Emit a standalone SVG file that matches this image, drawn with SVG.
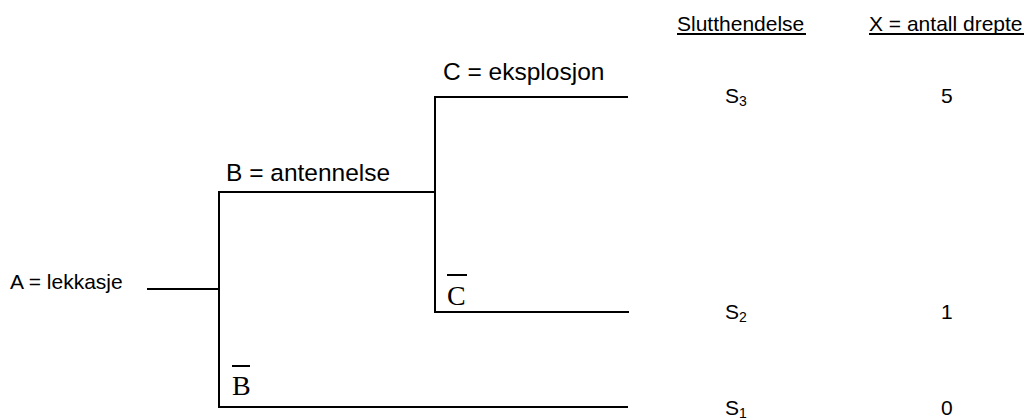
<svg xmlns="http://www.w3.org/2000/svg" width="1027" height="419" viewBox="0 0 1027 419">
<style>
.t{font-family:"Liberation Sans",Arial,sans-serif;font-size:21px;fill:#000}
.lb{font-family:"Liberation Sans",Arial,sans-serif;font-size:24.5px;fill:#000}
.s{font-family:"Liberation Serif","Times New Roman",serif;font-size:28px;fill:#000}
.sub{font-size:14px}
.ln{stroke:#000;stroke-width:2;fill:none}
</style>
<rect width="1027" height="419" fill="#fff"/>
<g id="connectors">
<path class="ln" d="M147,289 H220"/>
<path class="ln" d="M219,191 V408"/>
<path class="ln" d="M219,192 H436"/>
<path class="ln" d="M219,407 H628"/>
<path class="ln" d="M435,96 V313"/>
<path class="ln" d="M435,97 H628"/>
<path class="ln" d="M435,312 H629"/>
</g>
<g id="headers">
<text class="t" x="677" y="31">Slutthendelse</text>
<path class="ln" stroke-width="1.5" d="M677,34 H806"/>
<text class="t" x="869" y="31">X = antall drepte</text>
<path class="ln" stroke-width="1.5" d="M869,34 H1024"/>
</g>
<g id="nodeA"><text class="t" x="10" y="289">A = lekkasje</text></g>
<g id="nodeB"><text class="lb" x="226" y="181">B = antennelse</text></g>
<g id="nodeBbar"><text class="s" x="232" y="395">B</text><path class="ln" stroke-width="1.5" d="M232,366 H250"/></g>
<g id="nodeC"><text class="lb" x="443" y="80">C = eksplosjon</text></g>
<g id="nodeCbar"><text class="s" x="447" y="305">C</text><path class="ln" stroke-width="1.5" d="M447,275 H467"/></g>
<g id="S3"><text class="t" x="725" y="103">S<tspan class="sub" dy="3">3</tspan></text><text class="t" x="941" y="103">5</text></g>
<g id="S2"><text class="t" x="725" y="319">S<tspan class="sub" dy="3">2</tspan></text><text class="t" x="941" y="319">1</text></g>
<g id="S1"><text class="t" x="725" y="415">S<tspan class="sub" dy="3">1</tspan></text><text class="t" x="941" y="415">0</text></g>
</svg>
